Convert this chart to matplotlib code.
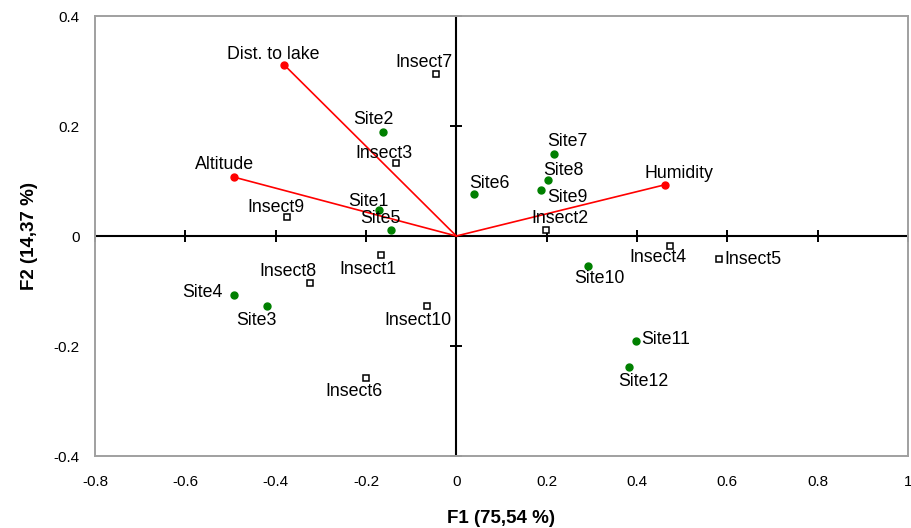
import matplotlib
matplotlib.use("Agg")
import matplotlib.pyplot as plt

plt.rcParams['font.family'] = ['Liberation Sans', 'DejaVu Sans']

# Variables (vectors)
var_names = ["Dist. to lake", "Altitude", "Humidity"]
var_x = [-0.381, -0.492, 0.461]
var_y = [0.311, 0.107, 0.093]

# Sites (observations)
site_names = ["Site1", "Site2", "Site3", "Site4", "Site5", "Site6",
              "Site7", "Site8", "Site9", "Site10", "Site11", "Site12"]
site_x = [-0.171, -0.162, -0.419, -0.492, -0.145, 0.039,
          0.216, 0.203, 0.187, 0.291, 0.397, 0.383]
site_y = [0.047, 0.190, -0.128, -0.107, 0.011, 0.076,
          0.149, 0.101, 0.084, -0.055, -0.190, -0.238]

# Insects
insect_names = ["Insect1", "Insect2", "Insect3", "Insect4", "Insect5",
                "Insect6", "Insect7", "Insect8", "Insect9", "Insect10"]
insect_x = [-0.166, 0.199, -0.133, 0.472, 0.581,
            -0.201, -0.044, -0.323, -0.376, -0.066]
insect_y = [-0.035, 0.011, 0.133, -0.019, -0.041,
            -0.259, 0.294, -0.086, 0.035, -0.128]

x_ticks = [-0.8, -0.6, -0.4, -0.2, 0, 0.2, 0.4, 0.6, 0.8, 1]
x_ticklabels = ["-0.8", "-0.6", "-0.4", "-0.2", "0", "0.2", "0.4", "0.6", "0.8", "1"]
y_ticks = [-0.4, -0.2, 0, 0.2, 0.4]
y_ticklabels = ["-0.4", "-0.2", "0", "0.2", "0.4"]

# label placement in pixels: (dx, dy of baseline (up positive), ha)
var_off = {"Dist. to lake": (-11, 6, "center"),
           "Altitude": (-10, 8, "center"),
           "Humidity": (14, 7, "center")}
site_off = {"Site1": (-11, 4, "center"),
            "Site2": (-10, 8, "center"),
            "Site3": (-11, -19, "center"),
            "Site4": (-12, -2, "right"),
            "Site5": (-10, 7, "center"),
            "Site6": (15, 6, "center"),
            "Site7": (13, 8, "center"),
            "Site8": (15, 5, "center"),
            "Site9": (27, -12, "center"),
            "Site10": (12, -17, "center"),
            "Site11": (6, -4, "left"),
            "Site12": (14, -19, "center")}
insect_off = {"Insect1": (-13, -19, "center"),
              "Insect2": (14, 7, "center"),
              "Insect3": (-12, 5, "center"),
              "Insect4": (-12, -16, "center"),
              "Insect5": (6, -5, "left"),
              "Insect6": (-12, -18, "center"),
              "Insect7": (-13, 7, "center"),
              "Insect8": (-23, 7, "center"),
              "Insect9": (-11, 5, "center"),
              "Insect10": (-9, -19, "center")}

fig = plt.figure(figsize=(9.12, 5.28), dpi=100)
ax = fig.add_axes([95/912, 72/528, 813/912, 440/528])
ax.set_xlim(-0.8, 1)
ax.set_ylim(-0.4, 0.4)

for s in ax.spines.values():
    s.set_color("#a0a0a0")
    s.set_linewidth(1.4)

ax.set_xticks(x_ticks)
ax.set_xticklabels(x_ticklabels)
ax.set_yticks(y_ticks)
ax.set_yticklabels(y_ticklabels)
ax.tick_params(axis="x", length=0, pad=14, labelsize=11)
ax.tick_params(axis="y", length=0, pad=11, labelsize=11)

# central axes
ax.axhline(0, color="black", lw=1.5, zorder=1)
ax.axvline(0, color="black", lw=1.5, zorder=1)
ax.plot(x_ticks, [0] * len(x_ticks), ls="none", marker="|", ms=9, mew=1.4,
        color="black", zorder=1, clip_on=False)
ax.plot([0] * len(y_ticks), y_ticks, ls="none", marker="_", ms=8, mew=1.4,
        color="black", zorder=1, clip_on=False)

# vectors
for vx, vy in zip(var_x, var_y):
    ax.plot([0, vx], [0, vy], color="red", lw=1.2, zorder=2)
ax.plot(var_x, var_y, ls="none", marker="o", ms=5, color="red", zorder=3)

# sites
ax.plot(site_x, site_y, ls="none", marker="o", ms=5, color="green", zorder=3)
# insects
ax.plot(insect_x, insect_y, ls="none", marker="s", ms=5, mfc="white",
        mec="black", mew=1.1, zorder=3)

def lab(names, xs, ys, offs):
    for n, x, y in zip(names, xs, ys):
        dx, dy, ha = offs[n]
        ax.annotate(n, (x, y), xytext=(dx, dy), textcoords="offset pixels",
                    ha=ha, va="baseline", fontsize=12.8, color="black", zorder=4)

lab(var_names, var_x, var_y, var_off)
lab(site_names, site_x, site_y, site_off)
lab(insect_names, insect_x, insect_y, insect_off)

ax.set_xlabel("F1 (75,54 %)", fontsize=13.5, fontweight="bold", labelpad=15)
ax.set_ylabel("F2 (14,37 %)", fontsize=13.5, fontweight="bold", labelpad=11.5)

fig.savefig("out.png", dpi=100)
